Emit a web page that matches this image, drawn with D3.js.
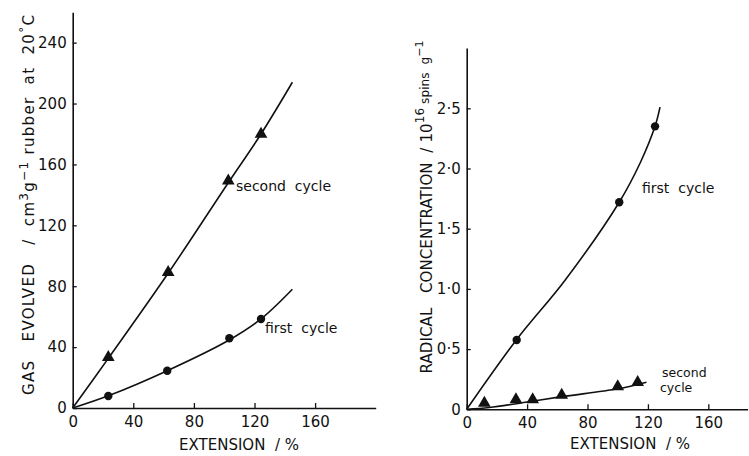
<!DOCTYPE html>
<html>
<head>
<meta charset="utf-8">
<script src="https://cdn.jsdelivr.net/npm/d3@7"></script>
<style>
  body { margin: 0; background: #fff; }
  svg text { font-family: "DejaVu Sans", sans-serif; fill: #111; }
</style>
</head>
<body>
<div id="vis"></div>
<script>
// ---- data ----
// left: gas evolved (cm3/g) vs extension (%)
var gasSecondX = [23.5, 63, 102.7, 124.3];
var gasSecondY = [32.6, 88.5, 148.6, 179.3];
var gasFirstX = [23.5, 62.4, 103.4, 124.3];
var gasFirstY = [7.9, 24.5, 45.8, 58.5];
// hand-drawn curves through them
var gasSecondCurve = [[0, 0], [23.5, 32.6], [63, 88.5], [102.7, 148], [124.3, 180], [145, 214]];
var gasFirstCurve = [[0, 0], [23.5, 8], [62.4, 24.5], [103, 44.5], [124.3, 58.5], [145, 78]];

// right: radical concentration (1e16 spins/g) vs extension (%)
var radFirstX = [33.1, 101, 124.7];
var radFirstY = [0.576, 1.72, 2.35];
var radSecondX = [11.7, 32.6, 43.7, 62.9, 100, 113.2];
var radSecondY = [0.044, 0.072, 0.072, 0.11, 0.18, 0.215];
var radFirstCurve = [[0, 0], [33.1, 0.58], [65, 1.07], [101, 1.72], [115, 2.05], [124.7, 2.35], [128, 2.51]];
var radSecondCurve = [[0, 0], [15, 0.015], [40, 0.06], [63, 0.105], [100, 0.17], [119, 0.225]];

var xTicks = [0, 40, 80, 120, 160];
var gasTicks = [0, 40, 80, 120, 160, 200, 240];
var radTicks = [0, 0.5, 1.0, 1.5, 2.0, 2.5];

var W = 749, H = 456;
var svg = d3.select('#vis').append('svg')
  .attr('width', W).attr('height', H);

// scales
var xL = d3.scaleLinear().domain([0, 200]).range([72.7, 375.7]);
var yL = d3.scaleLinear().domain([0, 260]).range([408, 12.2]);
var xR = d3.scaleLinear().domain([0, 186]).range([466.7, 747.6]);
var yR = d3.scaleLinear().domain([0, 3]).range([409.3, 48.1]);

function styleAxis(g) {
  g.selectAll('path.domain').attr('stroke', '#111').attr('stroke-width', 1.6);
  g.selectAll('.tick line').attr('stroke', '#111').attr('stroke-width', 1.3);
  g.selectAll('.tick text')
    .style('font-family', '"DejaVu Sans", sans-serif')
    .style('font-size', '15px')
    .attr('fill', '#111');
}

function drawPanel(x, y, yTicks, yFmt) {
  var gx = svg.append('g')
    .attr('transform', 'translate(0,' + y(0) + ')')
    .call(d3.axisBottom(x).tickValues(xTicks).tickSizeInner(-5).tickSizeOuter(0)
      .tickPadding(8).tickFormat(d3.format('d')));
  styleAxis(gx);

  var gy = svg.append('g')
    .attr('transform', 'translate(' + x(0) + ',0)')
    .call(d3.axisLeft(y).tickValues(yTicks).tickSizeInner(-4).tickSizeOuter(0)
      .tickPadding(6).tickFormat(yFmt));
  styleAxis(gy);
}

drawPanel(xL, yL, gasTicks, d3.format('d'));
drawPanel(xR, yR, radTicks, function (d) {
  return d === 0 ? '0' : d3.format('.1f')(d).replace('.', '\u00b7');
});

function drawCurve(x, y, pts) {
  var line = d3.line()
    .x(function (d) { return x(d[0]); })
    .y(function (d) { return y(d[1]); })
    .curve(d3.curveCatmullRom.alpha(0.5));
  svg.append('path')
    .datum(pts)
    .attr('d', line)
    .attr('fill', 'none')
    .attr('stroke', '#111')
    .attr('stroke-width', 1.6);
}

function drawDots(x, y, xs, ys) {
  svg.append('g').selectAll('circle')
    .data(xs)
    .enter().append('circle')
    .attr('cx', function (d) { return x(d); })
    .attr('cy', function (d, i) { return y(ys[i]); })
    .attr('r', 4.2)
    .attr('fill', '#111');
}

function drawTris(x, y, xs, ys) {
  var sym = d3.symbol().type(d3.symbolTriangle).size(70);
  svg.append('g').selectAll('path')
    .data(xs)
    .enter().append('path')
    .attr('d', sym)
    .attr('transform', function (d, i) {
      return 'translate(' + x(d) + ',' + (y(ys[i]) - 1) + ')';
    })
    .attr('fill', '#111');
}

drawCurve(xL, yL, gasSecondCurve);
drawCurve(xL, yL, gasFirstCurve);
drawTris(xL, yL, gasSecondX, gasSecondY);
drawDots(xL, yL, gasFirstX, gasFirstY);

drawCurve(xR, yR, radFirstCurve);
drawCurve(xR, yR, radSecondCurve);
drawDots(xR, yR, radFirstX, radFirstY);
drawTris(xR, yR, radSecondX, radSecondY);

// series labels
function label(txt, px, py, size) {
  svg.append('text')
    .attr('x', px).attr('y', py)
    .style('font-size', (size || 14) + 'px')
    .style('white-space', 'pre')
    .text(txt);
}
label('second  cycle', 236, 191);
label('first  cycle', 265, 333);
label('first  cycle', 642, 193);
label('second', 662, 377, 12.5);
label('cycle', 660, 392, 12.5);

// axis titles
function xTitle(cx, cy) {
  svg.append('text')
    .attr('x', cx).attr('y', cy)
    .attr('text-anchor', 'middle')
    .style('font-size', '15px')
    .style('white-space', 'pre')
    .text('EXTENSION  / %');
}
xTitle(239, 450);
xTitle(630, 449);

// left y title
var ty = svg.append('text')
  .attr('transform', 'translate(34,205) rotate(-90)')
  .attr('text-anchor', 'middle')
  .style('font-size', '15px')
  .style('white-space', 'pre')
  .attr('textLength', 380)
  .attr('lengthAdjust', 'spacing');
ty.append('tspan').text('GAS   EVOLVED   /  cm');
ty.append('tspan').attr('dy', -6).style('font-size', '12px').text('3');
ty.append('tspan').attr('dy', 6).text('g');
ty.append('tspan').attr('dy', -6).style('font-size', '12px').text('\u22121');
ty.append('tspan').attr('dy', 6).text(' rubber  at  20');
ty.append('tspan').attr('dy', -6).style('font-size', '12px').text('\u00b0');
ty.append('tspan').attr('dy', 6).text('C');

// right y title
var tr = svg.append('text')
  .attr('transform', 'translate(432,207) rotate(-90)')
  .attr('text-anchor', 'middle')
  .style('font-size', '15px')
  .style('white-space', 'pre')
  .attr('textLength', 333)
  .attr('lengthAdjust', 'spacing');
tr.append('tspan').text('RADICAL   CONCENTRATION  / 10');
tr.append('tspan').attr('dy', -8).style('font-size', '12px').text('16');
tr.append('tspan').attr('dy', 5).style('font-size', '12px').text(' spins  g');
tr.append('tspan').attr('dy', -6).style('font-size', '11px').text('\u22121');
</script>
</body>
</html>
